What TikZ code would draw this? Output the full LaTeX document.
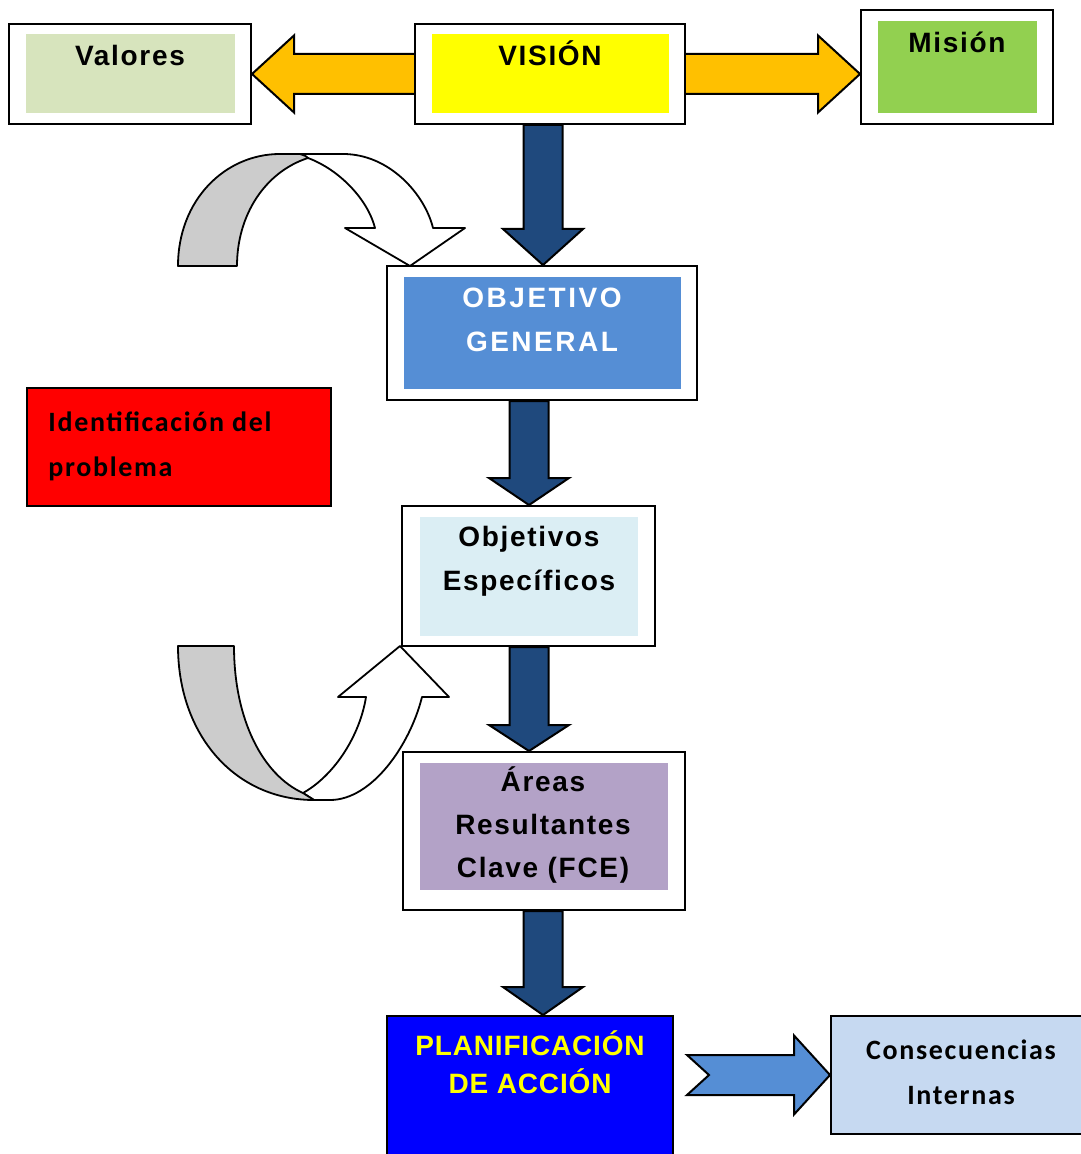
\documentclass[tikz,border=0pt]{standalone}
\usepackage{fontspec}
\setmainfont{Liberation Sans}
\newfontfamily\boxfont[LetterSpace=6]{Liberation Sans}
\newfontfamily\widefont[LetterSpace=9]{Liberation Sans}
\newfontfamily\planfont[LetterSpace=3]{Liberation Sans}
\newfontfamily\calfont[LetterSpace=6]{Carlito}
\usepackage{tikz}
\usetikzlibrary{positioning, calc, backgrounds}

\definecolor{valfill}{HTML}{D7E4BD}
\definecolor{visfill}{HTML}{FFFF00}
\definecolor{misfill}{HTML}{92D050}
\definecolor{orangearr}{HTML}{FFC000}
\definecolor{navyarr}{HTML}{1F497D}
\definecolor{objfill}{HTML}{558ED5}
\definecolor{espfill}{HTML}{DBEEF4}
\definecolor{arefill}{HTML}{B3A2C7}
\definecolor{planfill}{HTML}{0000FF}
\definecolor{consfill}{HTML}{C6D9F1}
\definecolor{ribbon}{HTML}{CCCCCC}

% vertical block arrow: source, target, x centre (px), head height (px)
\newcommand{\vblock}[4]{%
  \filldraw[darr] let \p1=(#1.south), \p2=(#2.north), \p3=(#3,0) in
    (\x3-9.75pt,\y1) -- (\x3+9.75pt,\y1) -- (\x3+9.75pt,\y2+#4*0.5pt)
    -- (\x3+20pt,\y2+#4*0.5pt) -- (\x3,\y2) -- (\x3-20pt,\y2+#4*0.5pt)
    -- (\x3-9.75pt,\y2+#4*0.5pt) -- cycle;}

\begin{document}
\begin{tikzpicture}[
        x=0.5pt, y=-0.5pt,
        sz/.style 2 args={minimum width=0.5pt*#1, minimum height=0.5pt*#2},
        frame/.style={draw, line width=1pt, fill=white, inner sep=0pt},
        panel/.style={inner sep=0pt},
        lbl/.style={font=\boxfont\bfseries\fontsize{14pt}{22pt}\selectfont, align=center, inner sep=0pt},
        callbl/.style={font=\calfont\bfseries\fontsize{14pt}{22.5pt}\selectfont, inner sep=0pt},
        darr/.style={fill=navyarr, draw=black, line width=1pt},
        oarr/.style={fill=orangearr, draw=black, line width=1pt},
        barr/.style={fill=objfill, draw=black, line width=1pt},
        band/.style={draw=black, line width=0.9pt, line join=round}
    ]
        \useasboundingbox (0,0) rectangle (1080,1154);

        % top row
        \node[frame, sz={242}{100}] (valores) at (130,74) {};
        \node[panel, fill=valfill, sz={209}{79}] (valores-in) at (130.5,73.5) {};
        \node[lbl, anchor=base] (valores-txt) at (130,66) {Valores};

        \node[frame, sz={270}{100}] (vision) at (550,74) {};
        \node[panel, fill=visfill, sz={237}{79}] (vision-in) at (550.5,73.5) {};
        \node[lbl, anchor=base] (vision-txt) at (550,66) {VISIÓN};

        \node[frame, sz={192}{114}] (mision) at (957,67) {};
        \node[panel, fill=misfill, sz={159}{92}] (mision-in) at (957.5,67) {};
        \node[lbl, anchor=base] (mision-txt) at (957,53) {Misión};

        % main column
        \node[frame, sz={310}{134}] (objgen) at (542,333) {};
        \node[panel, fill=objfill, sz={277}{112}] (objgen-in) at (542.5,333) {};
        \node[lbl, font=\widefont\bfseries\fontsize{14pt}{22pt}\selectfont, text=white]
            (objgen-txt) at (542,320) {OBJETIVO\\GENERAL};

        \node[frame, sz={253}{140}] (objesp) at (528.5,576) {};
        \node[panel, fill=espfill, sz={218}{119}] (objesp-in) at (529,576.5) {};
        \node[lbl] (objesp-txt) at (529,561) {Objetivos\\Específicos};

        \node[frame, sz={282}{158}] (areas) at (544,831) {};
        \node[panel, fill=arefill, sz={248}{127}] (areas-in) at (544,826.5) {};
        \node[lbl, font=\boxfont\bfseries\fontsize{14pt}{21.5pt}\selectfont]
            (areas-txt) at (543,825) {Áreas\\Resultantes\\Clave (FCE)};

        \node[frame, fill=planfill, sz={286}{160}] (planif) at (530,1096) {};
        \node[lbl, font=\planfont\bfseries\fontsize{14pt}{19pt}\selectfont, text=visfill]
            (planif-txt) at (530,1062) {PLANIFICACIÓN\\DE ACCIÓN};

        \node[frame, fill=consfill, sz={260}{118}] (consec) at (961,1075) {};
        \node[callbl, align=center] (consec-txt) at (961,1072) {Consecuencias\\Internas};

        \node[frame, fill=red, sz={304}{118}] (ident) at (179,447) {};
        \node[callbl, align=left, anchor=west] (ident-txt) at (48,446) {Identificación del\\problema};

        \begin{scope}[on background layer]
            % orange block arrows
            \filldraw[oarr] let \p1=(vision.west), \p2=(valores.east) in
                (\x1,\y1+10pt) -- (\x2+21pt,\y1+10pt) -- (\x2+21pt,\y1+19.25pt) -- (\x2,\y1)
                -- (\x2+21pt,\y1-19.25pt) -- (\x2+21pt,\y1-10pt) -- (\x1,\y1-10pt);
            \filldraw[oarr] let \p1=(vision.east), \p2=(mision.west) in
                (\x1,\y1+10pt) -- (\x2-21pt,\y1+10pt) -- (\x2-21pt,\y1+19.25pt) -- (\x2,\y1)
                -- (\x2-21pt,\y1-19.25pt) -- (\x2-21pt,\y1-10pt) -- (\x1,\y1-10pt);

            % dark block arrows
            \vblock{vision}{objgen}{543}{36}
            \vblock{objgen}{objesp}{529}{27}
            \vblock{objesp}{areas}{529}{26}
            \vblock{areas}{planif}{543}{28}
        \end{scope}

        % notched arrow
        \filldraw[barr] let \p1=(planif.east), \p2=(consec.west) in
            (\x1+6.5pt,\y2+10pt) -- (\x2-18pt,\y2+10pt) -- (\x2-18pt,\y2+19.75pt) -- (\x2,\y2)
            -- (\x2-18pt,\y2-19.75pt) -- (\x2-18pt,\y2-10pt) -- (\x1+6.5pt,\y2-10pt)
            -- (\x1+17.5pt,\y2) -- cycle;

        % curved arrow, top
        \filldraw[band, fill=white] (308,158) .. controls (340,170) and (368,200) .. (375,228)
            -- (345,228) -- (410,266) -- (465,228) -- (433,228)
            .. controls (425,195) and (390,154) .. (343,154) -- (280,154) -- cycle;
        \filldraw[band, fill=ribbon] (178,266) .. controls (178,200) and (225,154) .. (280,154)
            -- (300,154) .. controls (306,156) .. (308,158)
            .. controls (265,172) and (237,215) .. (237,266) -- cycle;

        % curved arrow, bottom
        \filldraw[band, fill=white] (303,793) .. controls (335,775) and (360,735) .. (366,697)
            -- (338,697) -- (400,646) -- (449,697) -- (422,697)
            .. controls (410,745) and (372,800) .. (330,800) -- (314,800) -- cycle;
        \filldraw[band, fill=ribbon] (178,646) .. controls (178,735) and (235,800) .. (314,800)
            -- (303,793) .. controls (263,775) and (234,720) .. (234,646) -- cycle;
    \end{tikzpicture}
\end{document}
